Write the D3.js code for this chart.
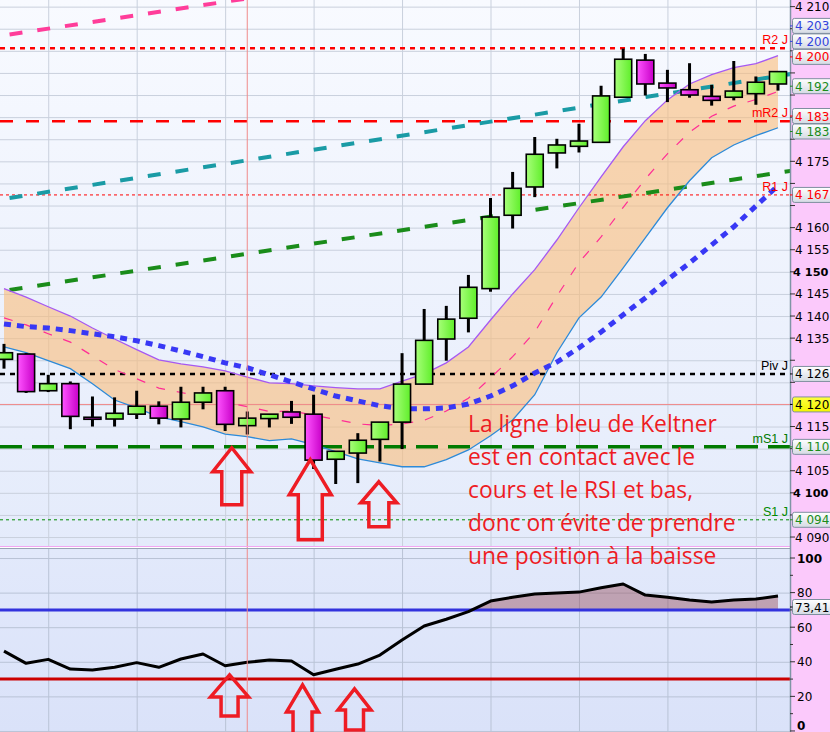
<!DOCTYPE html>
<html><head><meta charset="utf-8">
<script src="https://cdn.jsdelivr.net/npm/d3@7"></script>
<style>body{margin:0;background:#fff;} svg{display:block;font-family:"Liberation Sans",Arial,sans-serif;}</style>
</head><body><svg id="c" width="830" height="732"></svg>
<script>
// ---------------- DATA ----------------
const opens  = [4130.2,4131.4,4123.1,4124.7,4117.1,4116.7,4117.8,4119.6,4116.7,4120.5,4123.1,4115.2,4116.8,4118.3,4117.8,4107.6,4109.0,4112.1,4116.0,4124.6,4134.8,4139.5,4146.2,4162.8,4169.2,4176.9,4178.4,4179.3,4189.5,4197.9,4192.7,4191.2,4189.7,4189.5,4190.3,4192.5];
const highs  = [4133.7,4131.6,4126.7,4125.2,4121.8,4121.6,4123.1,4120.7,4124.0,4124.0,4124.0,4118.4,4117.8,4120.8,4122.2,4109.4,4113.5,4116.0,4131.6,4141.6,4142.3,4149.3,4166.7,4172.6,4180.5,4180.1,4183.5,4192.1,4200.5,4199.3,4195.7,4197.2,4192.3,4197.7,4194.2,4195.3];
const lows   = [4128.1,4122.6,4122.8,4114.4,4115.0,4115.0,4116.7,4115.5,4114.8,4118.9,4114.0,4113.2,4114.8,4115.6,4105.4,4102.0,4102.2,4107.1,4109.9,4124.6,4129.9,4136.3,4145.5,4159.8,4166.9,4173.4,4177.0,4179.3,4189.5,4189.9,4188.4,4189.4,4187.6,4188.8,4187.8,4191.0];
const closes = [4131.7,4122.9,4124.7,4117.3,4116.7,4118.0,4119.6,4116.9,4120.5,4122.6,4115.5,4116.9,4117.8,4117.1,4107.4,4109.4,4111.9,4116.0,4124.6,4134.5,4139.3,4146.5,4162.4,4168.9,4176.6,4178.7,4179.6,4189.8,4198.1,4192.5,4191.6,4190.0,4188.8,4190.9,4192.9,4195.3];
const keltnerUpper = [4146.2,4144.3,4142.1,4140.0,4137.3,4134.8,4132.4,4130.1,4129.2,4128.5,4127.6,4126.2,4124.9,4124.7,4124.2,4123.8,4123.5,4123.5,4125.3,4126.9,4129.4,4133.0,4139.1,4145.0,4150.5,4157.2,4164.5,4171.5,4178.3,4184.2,4188.9,4192.5,4194.6,4196.2,4197.1,4198.9];
const keltnerLower = [4133.0,4131.7,4129.9,4128.1,4124.7,4121.0,4119.2,4117.2,4116.1,4114.9,4113.3,4112.7,4111.8,4112.2,4110.9,4109.3,4107.7,4106.8,4105.9,4105.9,4107.5,4109.7,4112.9,4116.5,4122.2,4131.7,4139.6,4144.3,4150.9,4157.7,4164.5,4170.6,4175.8,4178.7,4180.8,4182.6];
const keltnerMid = [4139.6,4138.0,4136.0,4134.1,4131.0,4127.9,4125.8,4123.7,4122.7,4121.7,4120.5,4119.5,4118.4,4118.5,4117.6,4116.6,4115.6,4115.2,4115.6,4116.4,4118.5,4121.4,4126.0,4130.8,4136.4,4144.5,4152.1,4157.9,4164.6,4171.0,4176.7,4181.6,4185.2,4187.5,4189.0,4190.8];
const movingAvg = [4138.2,4137.6,4137.3,4136.7,4136.0,4135.3,4134.4,4133.3,4132.1,4130.8,4129.4,4128.3,4126.7,4125.1,4123.5,4121.9,4120.8,4119.7,4119.0,4119.0,4119.2,4120.1,4121.9,4124.2,4127.1,4129.6,4132.8,4136.4,4140.3,4144.1,4148.2,4152.0,4156.1,4160.2,4164.9,4169.5];
const rsiValues = [46.2,39.1,41.4,35.8,35.3,36.8,39.5,36.8,41.6,44.5,37.7,39.7,41.0,40.5,32.5,35.7,38.7,43.9,52.6,60.7,64.6,69.0,75.1,77.3,79.2,79.8,80.3,82.8,85.0,78.6,77.3,75.7,74.6,75.7,76.3,78.0];

// trend lines: [index, price] start and end
const trendNames  = ["pink","teal","green"];
const trendStart  = [[0,4203.5],[0,4166.5],[0,4145.7]];
const trendEnd    = [[10,4211.1],[35,4194.3],[35,4172.4]];

// pivot levels
const levelNames  = ["R2 J","mR2 J","R1 J","Piv J","mS1 J","S1 J"];
const levelValues = [4200.6,4184.05,4167.4,4126.9,4110.4,4093.9];
const cursorPrice = 4120;
const cursorIndex = 11;

// value boxes on the price axis
const boxTexts  = ["4 203","4 200","4 200","4 192","4 183","4 183","4 167","4 126","4 120","4 110","4 094"];
const boxValues = [4204.6,4201.2,4200.6,4192.0,4184.0,4183.0,4167.4,4126.9,4120.0,4110.4,4093.9];
const boxKinds  = ["blue","blue","red","green","red","green","red","black","yellow","green","green"];

const priceTicks = d3.range(4090, 4211, 5);
const rsiTicks = [0,20,40,60,80,100];
const rsiLevels = [70,30];
const rsiLast = "73,41";
const rsiLastValue = 73.41;

const noteLines = ["La ligne bleu de Keltner","est en contact avec le","cours et le RSI et bas,","donc on évite de prendre","une position à la baisse"];
// arrows: candle index, tip value
const arrowIdx   = [10.3, 13.85, 16.95];
const arrowPrice = [4110.2, 4107.5, 4102.5];
const arrowRsi   = [32.4, 26.6, 24.3];
const arrowRsiIdx= [10.2, 13.5, 15.85];

// ---------------- LAYOUT ----------------
const svg = d3.select("#c");
const PR = 790, mainBot = 546, rsiTop = 548, H = 732;
const axisFont = "'DejaVu Sans', Verdana, sans-serif";
const axisSize = 12, labX = 795;
const x = d3.scaleLinear().domain([0, 35]).range([4, 778]);
const y = d3.scaleLinear().domain([4088.2, 4211.5]).range([545, 0]);
const yR = d3.scaleLinear().domain([-0.6, 105.8]).range([732, 548]);
const n = opens.length;
const idx = d3.range(n);

const defs = svg.append("defs");
function vgrad(id, stops, horiz) {
  const g = defs.append("linearGradient").attr("id", id)
    .attr("x1",0).attr("y1",0).attr("x2",horiz?1:0).attr("y2",horiz?0:1);
  stops.forEach((c,i)=>g.append("stop").attr("offset", i/(stops.length-1)).attr("stop-color", c));
}
vgrad("bgMain", ["#f8faff","#e4ebfb"]);
vgrad("bgRsi", ["#e2e9fb","#dae2f9"]);
vgrad("gUp", ["#a8ff7a","#5fee2a"], true);
vgrad("gDn", ["#ff55ff","#c800c8"], true);
vgrad("gBox", ["#ffffff","#d5dbe4"]);
vgrad("gYel", ["#ffff40","#f4f400"]);
defs.append("clipPath").attr("id","clipMain").append("rect").attr("x",0).attr("y",0).attr("width",PR).attr("height",mainBot);
defs.append("clipPath").attr("id","clipRsi").append("rect").attr("x",0).attr("y",rsiTop).attr("width",PR).attr("height",H-rsiTop);
defs.append("clipPath").attr("id","clipAbove70").append("rect").attr("x",0).attr("y",rsiTop).attr("width",PR).attr("height",yR(70)-rsiTop);

// backgrounds
svg.append("rect").attr("x",0).attr("y",0).attr("width",PR).attr("height",mainBot).attr("fill","url(#bgMain)");
svg.append("rect").attr("x",0).attr("y",rsiTop).attr("width",PR).attr("height",H-rsiTop).attr("fill","url(#bgRsi)");
svg.append("rect").attr("x",PR).attr("y",0).attr("width",830-PR).attr("height",H).attr("fill","#fbc9fb");

const main = svg.append("g").attr("clip-path","url(#clipMain)");
const rsiG = svg.append("g").attr("clip-path","url(#clipRsi)");

// grids
const gridCol = "#c9d0dd";
main.selectAll("line.hg").data(priceTicks).join("line")
  .attr("x1",0).attr("x2",PR).attr("y1",d=>y(d)+0.5).attr("y2",d=>y(d)+0.5).attr("stroke",gridCol);
const vIdx = d3.range(2, n, 4);
main.selectAll("line.vg").data(vIdx).join("line")
  .attr("x1",d=>x(d)+0.5).attr("x2",d=>x(d)+0.5).attr("y1",0).attr("y2",mainBot).attr("stroke",gridCol);
rsiG.selectAll("line.hg").data(rsiTicks).join("line")
  .attr("x1",0).attr("x2",PR).attr("y1",d=>yR(d)+0.5).attr("y2",d=>yR(d)+0.5).attr("stroke","#b9c3d6");
rsiG.selectAll("line.vg").data(vIdx).join("line")
  .attr("x1",d=>x(d)+0.5).attr("x2",d=>x(d)+0.5).attr("y1",rsiTop).attr("y2",H).attr("stroke","#b9c3d6");

// Keltner fill
main.append("path").datum(idx)
  .attr("d", d3.area().x(i=>x(i)).y0(i=>y(keltnerLower[i])).y1(i=>y(keltnerUpper[i])))
  .attr("fill","rgba(250,188,122,0.6)");

// cursor lines
main.append("line").attr("x1",0).attr("x2",PR).attr("y1",y(cursorPrice)).attr("y2",y(cursorPrice))
  .attr("stroke","#f08a8a").attr("stroke-width",1);
svg.append("line").attr("x1",x(cursorIndex)).attr("x2",x(cursorIndex)).attr("y1",0).attr("y2",H)
  .attr("stroke","#f08a8a").attr("stroke-width",1);

// levels
const levelStyle = {
  "R2 J":  {c:"#ff0000", w:2.5, dash:"5,5", lc:"#ff0000"},
  "mR2 J": {c:"#ff0000", w:2.5, dash:"13,13", lc:"#ff0000"},
  "R1 J":  {c:"#ff0000", w:1, dash:"3,3", lc:"#ff0000"},
  "Piv J": {c:"#000000", w:2.5, dash:"5,5", lc:"#000000"},
  "mS1 J": {c:"#007a00", w:3.5, dash:"22,10", lc:"#007a00"},
  "S1 J":  {c:"#008a00", w:1, dash:"3,3", lc:"#008a00"}
};
levelNames.forEach((nm,k)=>{
  const s = levelStyle[nm];
  main.append("line").attr("x1",0).attr("x2",PR).attr("y1",y(levelValues[k])).attr("y2",y(levelValues[k]))
    .attr("stroke",s.c).attr("stroke-width",s.w).attr("stroke-dasharray",s.dash);
});

// trend lines (extended across)
const trendStyle = {pink:"#ff3d9a", teal:"#1a9ba5", green:"#1a8c1a"};
trendNames.forEach((nm,k)=>{
  const [i0,p0] = trendStart[k], [i1,p1] = trendEnd[k];
  const slope = (p1-p0)/(i1-i0);
  const a = -1, b = 37;
  main.append("line").attr("x1",x(a)).attr("y1",y(p0+slope*(a-i0))).attr("x2",x(b)).attr("y2",y(p0+slope*(b-i0)))
    .attr("stroke",trendStyle[nm]).attr("stroke-width",4).attr("stroke-dasharray","13,15");
});

// Keltner lines
const ln = arr => d3.line().x(i=>x(i)).y(i=>y(arr[i]));
main.append("path").datum(idx).attr("d",ln(keltnerUpper)).attr("fill","none").attr("stroke","#a659f2").attr("stroke-width",1.3);
main.append("path").datum(idx).attr("d",ln(keltnerLower)).attr("fill","none").attr("stroke","#2d8ad8").attr("stroke-width",1.3);
main.append("path").datum(idx).attr("d",ln(keltnerMid)).attr("fill","none").attr("stroke","#ff2d95").attr("stroke-width",1.2).attr("stroke-dasharray","9,12");
// moving average dotted
main.append("path").datum(idx).attr("d",ln(movingAvg)).attr("fill","none").attr("stroke","#3838f5").attr("stroke-width",5).attr("stroke-dasharray","7,6");

// candles
const bw = 17;
const cg = main.append("g");
cg.selectAll("line.wick").data(idx).join("line")
  .attr("x1",i=>x(i)).attr("x2",i=>x(i)).attr("y1",i=>y(highs[i])).attr("y2",i=>y(lows[i]))
  .attr("stroke","#000").attr("stroke-width",3);
cg.selectAll("rect.body").data(idx).join("rect")
  .attr("x",i=>x(i)-bw/2).attr("width",bw)
  .attr("y",i=>y(Math.max(opens[i],closes[i])))
  .attr("height",i=>Math.max(2, Math.abs(y(opens[i])-y(closes[i]))))
  .attr("fill",i=>closes[i]>=opens[i]?"url(#gUp)":"url(#gDn)")
  .attr("stroke","#000").attr("stroke-width",1.6);

// level labels
levelNames.forEach((nm,k)=>{
  main.append("text").attr("x",788).attr("y",y(levelValues[k])-4).attr("text-anchor","end")
    .attr("font-size",12.5).attr("fill",levelStyle[nm].lc).text(nm);
});

// RSI
rsiG.append("path").datum(idx)
  .attr("d", d3.area().x(i=>x(i)).y0(yR(70)).y1(i=>yR(rsiValues[i])))
  .attr("clip-path","url(#clipAbove70)")
  .attr("fill","rgba(150,78,92,0.45)");
const rsiColors = {70:"#3333dd", 30:"#cc0000"};
rsiLevels.forEach(v=>{
  rsiG.append("line").attr("x1",0).attr("x2",PR).attr("y1",yR(v)).attr("y2",yR(v)).attr("stroke",rsiColors[v]).attr("stroke-width",3);
});
rsiG.append("path").datum(idx).attr("d",d3.line().x(i=>x(i)).y(i=>yR(rsiValues[i])))
  .attr("fill","none").attr("stroke","#000").attr("stroke-width",3).attr("stroke-linejoin","round");

// panel borders
svg.append("line").attr("x1",0).attr("x2",PR).attr("y1",546.5).attr("y2",546.5).attr("stroke","#f2a6f2");
svg.append("line").attr("x1",0).attr("x2",PR).attr("y1",548.5).attr("y2",548.5).attr("stroke","#98a4b6");
svg.append("line").attr("x1",PR+0.5).attr("x2",PR+0.5).attr("y1",0).attr("y2",H).attr("stroke","#7f95a5").attr("stroke-width",1.5);

// value boxes layout (collision resolution)
const boxCol = {blue:"#3344dd", red:"#ff0000", green:"#1a8c1a", black:"#000", yellow:"#000"};
const bh = 15, gap = 15.5;
let items = boxTexts.map((t,k)=>({t, v:boxValues[k], kind:boxKinds[k], y:y(boxValues[k])}));
items.sort((a,b)=>a.y-b.y);
let clusters = [];
items.forEach(it=>{
  const last = clusters[clusters.length-1];
  if (last && it.y - last[last.length-1].y < gap) last.push(it); else clusters.push([it]);
});
clusters.forEach(cl=>{
  const m = d3.mean(cl, d=>d.y);
  cl.forEach((d,j)=>{ d.cy = m + (j-(cl.length-1)/2)*gap; });
});

// price axis (labels hidden where a value box covers them)
const fmtP = v => "4 " + d3.format("03d")(v-4000);
const ax = svg.append("g");
priceTicks.forEach(v=>{
  ax.append("line").attr("x1",PR).attr("x2",PR+5).attr("y1",y(v)).attr("y2",y(v)).attr("stroke","#333");
  const covered = items.some(d=>Math.abs(d.cy - y(v)) < 15);
  const bold = (v===4150||v===4100);
  if (!covered)
    ax.append("text").attr("x",bold?793:labX).attr("y",y(v)+4.5).attr("font-size",bold?11.3:axisSize).attr("font-family",axisFont)
      .attr("font-weight",bold?"bold":"normal").attr("fill","#000").text(fmtP(v));
});
d3.range(0,101,10).forEach(v=>{
  ax.append("line").attr("x1",PR).attr("x2",PR+(v%20===0?5:3)).attr("y1",yR(v)).attr("y2",yR(v)).attr("stroke","#333");
});
rsiTicks.forEach(v=>{
  ax.append("text").attr("x",labX+2).attr("y",Math.min(yR(v)+4.5, 730)).attr("font-size",axisSize).attr("font-family",axisFont)
    .attr("font-weight",(v===100||v===0)?"bold":"normal").attr("fill","#000").text(v);
});

const boxG = svg.append("g");
function drawBox(cy, text, kind) {
  boxG.append("rect").attr("x",792.5).attr("y",cy-bh/2).attr("width",45).attr("height",bh).attr("rx",2)
    .attr("fill", kind==="yellow"?"url(#gYel)":"url(#gBox)").attr("stroke","#7f8f9f");
  boxG.append("line").attr("x1",PR).attr("x2",792.5).attr("y1",cy).attr("y2",cy).attr("stroke",boxCol[kind]);
  boxG.append("text").attr("x",labX).attr("y",cy+4.5).attr("font-size",axisSize).attr("font-family",axisFont)
    .attr("fill",boxCol[kind]).text(text);
}
items.forEach(d=>drawBox(d.cy, d.t, d.kind));
drawBox(yR(rsiLastValue)+3, rsiLast, "black");

// arrows
function arrow(g, cx, ty, h1, hw, sw, L) {
  const p = `M${cx},${ty} L${cx+hw},${ty+h1} L${cx+sw},${ty+h1} L${cx+sw},${ty+L} L${cx-sw},${ty+L} L${cx-sw},${ty+h1} L${cx-hw},${ty+h1} Z`;
  g.append("path").attr("d",p).attr("fill","none").attr("stroke","#ee1c24").attr("stroke-width",3.5).attr("stroke-linejoin","miter");
}
const arrG = svg.append("g");
const mainDims = [[24,19,10,57],[35,21,12,80],[21,18,10,45]];
arrowIdx.forEach((ii,k)=>{ const d=mainDims[k]; arrow(arrG, x(ii), y(arrowPrice[k]), d[0],d[1],d[2],d[3]); });
const rsiDims = [[22,19,8.5,41],[27,16,9.5,60],[21,16.5,9,41]];
arrowRsiIdx.forEach((ii,k)=>{ const d=rsiDims[k]; arrow(arrG, x(ii), yR(arrowRsi[k]), d[0],d[1],d[2],d[3]); });

// annotation text
const noteG = svg.append("g");
noteLines.forEach((t,k)=>{
  noteG.append("text").attr("x",468).attr("y",y(4120) + 28 + k*33).attr("font-size",22.8)
    .attr("font-family","'Open Sans', Lato, sans-serif").attr("fill","#ee1c24").text(t);
});
</script></body></html>
